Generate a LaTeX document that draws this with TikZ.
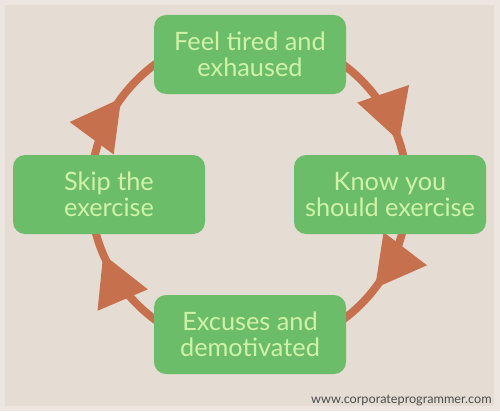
\documentclass[tikz,border=0pt]{standalone}
\usepackage{fontspec}
\setmainfont{Lato}
\usetikzlibrary{arrows.meta,decorations.markings}

\definecolor{paper}{HTML}{E5DDD4}
\definecolor{frame}{HTML}{EDE6E0}
\definecolor{boxgreen}{HTML}{6CBD69}
\definecolor{textgreen}{HTML}{D0F2A8}
\definecolor{ring}{HTML}{C6704E}

\tikzset{
	stage/.style={draw=none, fill=boxgreen, rounded corners=0.24cm, minimum width=3.84cm, minimum height=1.58cm,
		align=center, text=textgreen, font=\fontsize{14.4}{14.6}\selectfont},
	cycle/.style={draw=ring, line width=4.5pt,
		decoration={markings,
			mark=at position 0.198 with {\arrow{Triangle[length=1cm, width=1.05cm]}},
			mark=at position 0.354 with {\arrow{Triangle[length=1cm, width=1.05cm]}},
			mark=at position 0.686 with {\arrow{Triangle[length=1cm, width=1.05cm]}},
			mark=at position 0.851 with {\arrow{Triangle[length=1cm, width=1.05cm]}}},
		postaction={decorate}}
}

\begin{document}
\begin{tikzpicture}
	\fill[frame] (0,0) rectangle (10,8.22);
	\fill[paper] (0.1,0.1) rectangle (9.88,8.12);

	\draw[cycle] (4.98,4.38) ++(90:3.17) arc[start angle=90, end angle=-270, radius=3.17];

	\node[stage] (tired) at (5.0,7.13) {Feel tired and\\exhaused};
	\node[stage] (know) at (7.8,4.33) {Know you\\should exercise};
	\node[stage] (excuses) at (5.0,1.53) {Excuses and\\demotivated};
	\node[stage] (skip) at (2.18,4.33) {Skip the\\exercise};

	\node[anchor=base east, text=black!70, font=\fontsize{7.2}{9}\selectfont, inner sep=0pt] (site) at (9.84,0.16) {www.corporateprogrammer.com};
\end{tikzpicture}
\end{document}
